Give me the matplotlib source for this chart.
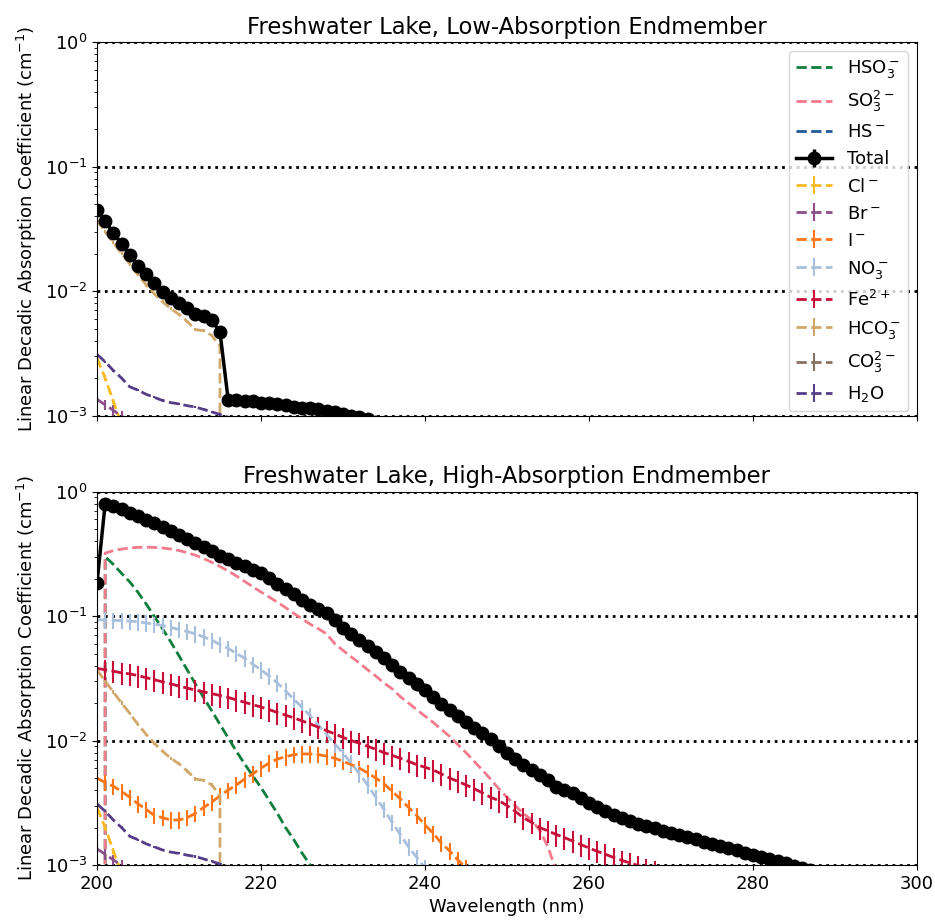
import numpy as np
import matplotlib
matplotlib.use("Agg")
import matplotlib.pyplot as plt

# absorption coefficients (cm^-1), one value per nm starting at 200 nm
total_low = [0.045, 0.0365, 0.0292, 0.0240, 0.0196, 0.0160, 0.0138, 0.0117, 0.0099, 0.0088,
             0.0080, 0.0073, 0.0065, 0.0063, 0.0058, 0.0047, 0.00134, 0.00133, 0.00132, 0.00130,
             0.00127, 0.00125, 0.00123, 0.00121, 0.00118, 0.00116, 0.00114, 0.00112, 0.00109, 0.00106,
             0.00103, 0.00100, 0.00097, 0.00093, 0.00089]
total_high = [0.183, 0.80, 0.76, 0.72, 0.675, 0.634, 0.593, 0.554, 0.518, 0.484,
              0.449, 0.417, 0.388, 0.358, 0.330, 0.305, 0.285, 0.268, 0.250, 0.236,
              0.221, 0.201, 0.182, 0.165, 0.149, 0.135, 0.123, 0.113, 0.105, 0.093,
              0.080, 0.072, 0.064, 0.057, 0.0515, 0.0458, 0.0405, 0.0358, 0.0317, 0.0286,
              0.0254, 0.0224, 0.0198, 0.0175, 0.0156, 0.0140, 0.0126, 0.0114, 0.0102, 0.0091,
              0.0080, 0.0071, 0.0064, 0.0058, 0.0053, 0.0048, 0.0042, 0.0040, 0.0038, 0.00345,
              0.00315, 0.00295, 0.00272, 0.00253, 0.00238, 0.00224, 0.00214, 0.00205, 0.00197, 0.00189,
              0.00182, 0.00174, 0.00167, 0.00161, 0.00154, 0.00148, 0.00142, 0.00136, 0.00131, 0.00126,
              0.00121, 0.00116, 0.00111, 0.00107, 0.00103, 0.00099, 0.00095, 0.00091, 0.00087]
hso3 = [0.0, 0.30, 0.26, 0.22, 0.188, 0.155, 0.125, 0.099, 0.079, 0.062,
        0.048, 0.037, 0.0285, 0.0222, 0.0173, 0.0135, 0.0105, 0.0082, 0.0065, 0.0052,
        0.0042, 0.0033, 0.0026, 0.0020, 0.0016, 0.00125, 0.0010, 0.0008, 0.00063]
so3 = [0.0, 0.32, 0.335, 0.345, 0.352, 0.356, 0.357, 0.356, 0.352, 0.345,
       0.336, 0.323, 0.308, 0.290, 0.270, 0.250, 0.230, 0.210, 0.190, 0.172,
       0.156, 0.142, 0.129, 0.117, 0.105, 0.095, 0.086, 0.079, 0.072, 0.060,
       0.053, 0.047, 0.042, 0.037, 0.033, 0.029, 0.026, 0.0225, 0.020, 0.0177,
       0.0157, 0.0140, 0.0123, 0.0108, 0.0093, 0.0080, 0.0068, 0.0058, 0.0049, 0.0041,
       0.0035, 0.0030, 0.0026, 0.0023, 0.0019, 0.0014, 0.0009, 0.0004, 0.0001]
no3 = [0.093, 0.093, 0.092, 0.092, 0.091, 0.090, 0.088, 0.086, 0.084, 0.081,
       0.078, 0.075, 0.072, 0.068, 0.064, 0.059, 0.055, 0.050, 0.046, 0.041,
       0.037, 0.033, 0.029, 0.025, 0.0215, 0.0185, 0.0158, 0.0133, 0.0112, 0.0094,
       0.0079, 0.0066, 0.0054, 0.0044, 0.0035, 0.0028, 0.0022, 0.00175, 0.0014, 0.00115,
       0.00095, 0.0008, 0.00065]
fe = [0.038, 0.037, 0.036, 0.035, 0.0343, 0.0332, 0.0320, 0.0308, 0.0296, 0.0285,
      0.0274, 0.0264, 0.0254, 0.0246, 0.0238, 0.0230, 0.0222, 0.0212, 0.0203, 0.0194,
      0.0186, 0.0177, 0.0168, 0.0160, 0.0152, 0.0144, 0.0136, 0.0128, 0.0120, 0.0113,
      0.0106, 0.0100, 0.0095, 0.0090, 0.0085, 0.0080, 0.0076, 0.0072, 0.0068, 0.0064,
      0.0061, 0.0058, 0.0054, 0.0050, 0.0047, 0.0044, 0.0041, 0.0038, 0.0035, 0.0033,
      0.0030, 0.0027, 0.0024, 0.0022, 0.0020, 0.00188, 0.00176, 0.00166, 0.00156, 0.00146,
      0.00137, 0.00129, 0.00122, 0.00115, 0.00109, 0.00104, 0.00099, 0.00094, 0.00089]
iodide = [0.0050, 0.0046, 0.0043, 0.0039, 0.0035, 0.0031, 0.0028, 0.0025, 0.0024, 0.0023,
          0.0023, 0.0024, 0.0026, 0.0029, 0.0032, 0.0036, 0.0040, 0.0044, 0.0049, 0.0054,
          0.0060, 0.0066, 0.0071, 0.0074, 0.0077, 0.0078, 0.0078, 0.0077, 0.0075, 0.0072,
          0.0068, 0.0064, 0.0060, 0.0055, 0.0050, 0.0045, 0.0039, 0.0034, 0.0029, 0.0025,
          0.0021, 0.0018, 0.0015, 0.0013, 0.0011, 0.00095, 0.0008, 0.00065]
hco3 = [0.037, 0.030, 0.0245, 0.020, 0.0165, 0.0135, 0.0112, 0.0095, 0.0082, 0.0072,
        0.0065, 0.0057, 0.0049, 0.0048, 0.0044, 0.0036, 0.0]
h2o = [0.0031, 0.0027, 0.0023, 0.0020, 0.0017, 0.0016, 0.00148, 0.0014, 0.00132, 0.00127,
       0.00124, 0.0012, 0.00117, 0.00112, 0.00107, 0.00102, 0.00097, 0.00092, 0.00088]
chloride = [0.0029, 0.0020, 0.0013, 0.00085, 0.0005]
bromide = [0.00135, 0.00122, 0.0011, 0.00099, 0.0009]

# relative 1-sigma uncertainty per species
rel_err = {'total': 0.04, 'cl': 0.05, 'br': 0.1, 'i': 0.15, 'no3': 0.15,
           'fe': 0.2, 'hco3': 0.03, 'co3': 0.03, 'h2o': 0.02}

colors = {'hso3': '#0f7d3c', 'so3': '#f47a8e', 'hs': '#1f5a96', 'cl': '#f9b921',
          'br': '#8c4f8c', 'i': '#ff7518', 'no3': '#a9c0dc', 'fe': '#c70f3a',
          'hco3': '#d2a86a', 'co3': '#877264', 'h2o': '#563d87'}


def wl(vals):
    return np.arange(200, 200 + len(vals))


def species(ax, vals, key, label):
    v = np.array(vals)
    return ax.errorbar(wl(v), v, yerr=rel_err[key] * v, ls='--', lw=2, elinewidth=1.5,
                       color=colors[key], label=label)


def total(ax, vals):
    v = np.array(vals)
    return ax.errorbar(wl(v), v, yerr=rel_err['total'] * v, fmt='-o', color='black',
                       lw=2.5, markersize=9, label='Total', zorder=3)


plt.rcParams['font.size'] = 13
plt.rcParams['axes.titlesize'] = 16.3
fig, (ax1, ax2) = plt.subplots(2, 1, figsize=(9.35, 9.22), dpi=100, sharex=True)
fig.subplots_adjust(left=0.1037, right=0.9807, top=0.9544, bottom=0.0618, hspace=0.2035)

# low-absorption endmember
total(ax1, total_low)
species(ax1, chloride, 'cl', r'Cl$^-$')
species(ax1, bromide, 'br', r'Br$^-$')
species(ax1, hco3, 'hco3', r'HCO$_3^-$')
species(ax1, h2o, 'h2o', r'H$_2$O')

# high-absorption endmember
h_hso3, = ax2.plot(wl(hso3), hso3, '--', lw=2, color=colors['hso3'], label=r'HSO$_3^-$')
h_so3, = ax2.plot(wl(so3), so3, '--', lw=2, color=colors['so3'], label=r'SO$_3^{2-}$')
h_hs, = ax2.plot([], [], '--', lw=2, color=colors['hs'], label=r'HS$^-$')
h_tot = total(ax2, total_high)
h_cl = species(ax2, chloride, 'cl', r'Cl$^-$')
h_br = species(ax2, bromide, 'br', r'Br$^-$')
h_i = species(ax2, iodide, 'i', r'I$^-$')
h_no3 = species(ax2, no3, 'no3', r'NO$_3^-$')
h_fe = species(ax2, fe, 'fe', r'Fe$^{2+}$')
h_hco3 = species(ax2, hco3, 'hco3', r'HCO$_3^-$')
h_co3 = ax2.errorbar([], [], yerr=[], ls='--', lw=2, elinewidth=1.5, color=colors['co3'],
                     label=r'CO$_3^{2-}$')
h_h2o = species(ax2, h2o, 'h2o', r'H$_2$O')

titles = ['Freshwater Lake, Low-Absorption Endmember',
          'Freshwater Lake, High-Absorption Endmember']
for ax, t in zip((ax1, ax2), titles):
    ax.set_yscale('log')
    ax.set_ylim(1e-3, 1)
    ax.set_xlim(200, 300)
    ax.set_xticks([200, 220, 240, 260, 280, 300])
    ax.grid(axis='y', which='major', ls=':', color='black', lw=2)
    ax.set_ylabel(r'Linear Decadic Absorption Coefficient (cm$^{-1}$)')
    ax.set_title(t)
ax2.set_xlabel('Wavelength (nm)')

handles = [h_hso3, h_so3, h_hs, h_tot, h_cl, h_br, h_i, h_no3, h_fe, h_hco3, h_co3, h_h2o]
ax1.legend(handles=handles, labels=[h.get_label() for h in handles], loc='upper right')

fig.savefig('out.png', dpi=100)
